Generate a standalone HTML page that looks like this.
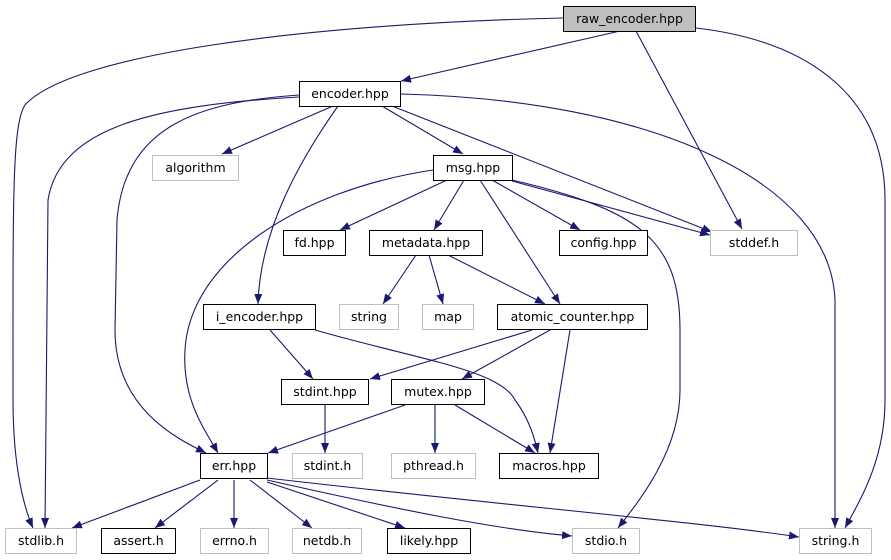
<!DOCTYPE html>
<html><head><meta charset="utf-8"><style>
html,body{margin:0;padding:0;background:#fff;}
svg{display:block;}
text{font-family:"DejaVu Sans","Liberation Sans",sans-serif;font-size:12.5px;fill:#000;}
</style></head><body>
<svg width="891" height="560" viewBox="0 0 891 560" xmlns="http://www.w3.org/2000/svg">
<defs>
<marker id="a" markerWidth="11" markerHeight="8" refX="10" refY="4" orient="auto" markerUnits="userSpaceOnUse">
<path d="M0,0 L10,4 L0,8 Z" fill="#191970"/>
</marker>
</defs>
<g fill="none" stroke="#191970" stroke-width="1.1" marker-end="url(#a)">
<path d="M620,31 L401,81"/>
<path d="M563,18 C300,24 70,55 25,105 C12,125 13,200 13,400 C13,470 25,510 33,528"/>
<path d="M636,31 L742,229"/>
<path d="M696,28 C800,40 885,90 885,200 L885,400 C885,460 860,500 845,528"/>
<path d="M333,106 L222,154"/>
<path d="M382,106 L463,154"/>
<path d="M392,106 L712,232"/>
<path d="M401,94 C650,100 830,180 835,300 L835,528"/>
<path d="M299,97 C160,105 60,125 48,200 L45,528"/>
<path d="M299,95 C200,102 125,125 117,220 L115,330 C115,410 180,440 206,453"/>
<path d="M338,106 C300,160 260,230 258,304"/>
<path d="M447,180 L340,230"/>
<path d="M464,180 L434,230"/>
<path d="M480,180 L560,304"/>
<path d="M492,180 L580,230"/>
<path d="M512,181 L710,235"/>
<path d="M512,180 C640,210 680,240 680,330 L680,390 C680,450 640,500 618,528"/>
<path d="M433,170 C300,190 190,260 185,350 C182,400 205,430 218,453"/>
<path d="M416,255 L383,304"/>
<path d="M429,255 L443,304"/>
<path d="M448,255 L545,304"/>
<path d="M270,330 L313,379"/>
<path d="M315,330 C420,360 500,370 515,400 C530,420 535,440 538,453"/>
<path d="M532,330 L370,379"/>
<path d="M550,330 L462,379"/>
<path d="M570,330 L550,453"/>
<path d="M325,405 L325,453"/>
<path d="M405,405 L268,453"/>
<path d="M435,405 L435,453"/>
<path d="M455,405 L535,453"/>
<path d="M200,480 L72,528"/>
<path d="M218,480 L155,528"/>
<path d="M234,480 L234,528"/>
<path d="M250,480 L312,528"/>
<path d="M267,482 L405,528"/>
<path d="M267,480 C400,510 500,530 572,536"/>
<path d="M267,478 C500,505 700,522 799,537"/>
</g>
<g stroke-width="1">
<rect x="563.5" y="6.5" width="132" height="25" fill="#bfbfbf" stroke="#000"/>
<rect x="299.5" y="81.5" width="101" height="25" fill="#fff" stroke="#000"/>
<rect x="152.5" y="155.5" width="86" height="25" fill="#fff" stroke="#bfbfbf"/>
<rect x="433.5" y="155.5" width="79" height="25" fill="#fff" stroke="#000"/>
<rect x="283.5" y="230.5" width="62" height="25" fill="#fff" stroke="#000"/>
<rect x="369.5" y="230.5" width="113" height="25" fill="#fff" stroke="#000"/>
<rect x="559.5" y="230.5" width="88" height="25" fill="#fff" stroke="#000"/>
<rect x="710.5" y="230.5" width="87" height="25" fill="#fff" stroke="#bfbfbf"/>
<rect x="203.5" y="304.5" width="112" height="25" fill="#fff" stroke="#000"/>
<rect x="339.5" y="304.5" width="59" height="25" fill="#fff" stroke="#bfbfbf"/>
<rect x="422.5" y="304.5" width="51" height="25" fill="#fff" stroke="#bfbfbf"/>
<rect x="497.5" y="304.5" width="150" height="25" fill="#fff" stroke="#000"/>
<rect x="281.5" y="379.5" width="87" height="25" fill="#fff" stroke="#000"/>
<rect x="391.5" y="379.5" width="93" height="25" fill="#fff" stroke="#000"/>
<rect x="200.5" y="453.5" width="67" height="25" fill="#fff" stroke="#000"/>
<rect x="292.5" y="453.5" width="70" height="25" fill="#fff" stroke="#bfbfbf"/>
<rect x="391.5" y="453.5" width="84" height="25" fill="#fff" stroke="#bfbfbf"/>
<rect x="499.5" y="453.5" width="99" height="25" fill="#fff" stroke="#000"/>
<rect x="5.5" y="528.5" width="71" height="25" fill="#fff" stroke="#bfbfbf"/>
<rect x="101.5" y="528.5" width="74" height="25" fill="#fff" stroke="#000"/>
<rect x="200.5" y="528.5" width="68" height="25" fill="#fff" stroke="#bfbfbf"/>
<rect x="292.5" y="528.5" width="69" height="25" fill="#fff" stroke="#bfbfbf"/>
<rect x="387.5" y="528.5" width="83" height="25" fill="#fff" stroke="#000"/>
<rect x="572.5" y="528.5" width="67" height="25" fill="#fff" stroke="#bfbfbf"/>
<rect x="799.5" y="528.5" width="72" height="25" fill="#fff" stroke="#bfbfbf"/>
</g>
<g text-anchor="middle">
<text x="629.5" y="23">raw_encoder.hpp</text>
<text x="350" y="98">encoder.hpp</text>
<text x="195.5" y="172">algorithm</text>
<text x="473" y="172">msg.hpp</text>
<text x="314.5" y="247">fd.hpp</text>
<text x="426" y="247">metadata.hpp</text>
<text x="603.5" y="247">config.hpp</text>
<text x="754" y="247">stddef.h</text>
<text x="259.5" y="321">i_encoder.hpp</text>
<text x="369" y="321">string</text>
<text x="448" y="321">map</text>
<text x="572.5" y="321">atomic_counter.hpp</text>
<text x="325" y="396">stdint.hpp</text>
<text x="438" y="396">mutex.hpp</text>
<text x="234" y="470">err.hpp</text>
<text x="327.5" y="470">stdint.h</text>
<text x="433.5" y="470">pthread.h</text>
<text x="549" y="470">macros.hpp</text>
<text x="41" y="545">stdlib.h</text>
<text x="138.5" y="545">assert.h</text>
<text x="234.5" y="545">errno.h</text>
<text x="327" y="545">netdb.h</text>
<text x="429" y="545">likely.hpp</text>
<text x="606" y="545">stdio.h</text>
<text x="835.5" y="545">string.h</text>
</g>
</svg>
</body></html>
